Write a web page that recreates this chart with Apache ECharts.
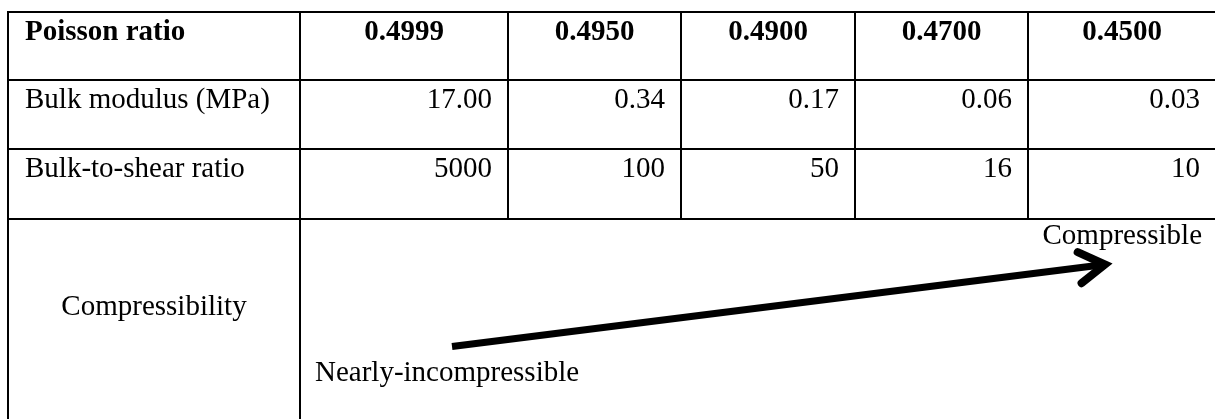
<!DOCTYPE html>
<html>
<head>
<meta charset="utf-8">
<script src="https://cdn.jsdelivr.net/npm/echarts@6/dist/echarts.min.js"></script>
<style>
  html, body { margin: 0; padding: 0; background: #fff; }
  #chart { width: 1215px; height: 419px; }
</style>
</head>
<body>
<div id="chart"></div>
<script>
// ---- data ----
const cornerLabel = 'Poisson ratio';
const poissonRatios = ['0.4999', '0.4950', '0.4900', '0.4700', '0.4500'];
const rowLabels = ['Bulk modulus (MPa)', 'Bulk-to-shear ratio', 'Compressibility'];
const bulkModulus = [17.00, 0.34, 0.17, 0.06, 0.03];
const bulkToShear = [5000, 100, 50, 16, 10];
const arrowFrom = 'Nearly-incompressible';
const arrowTo = 'Compressible';

// ---- layout (px) ----
const colWidths = [208, 173, 174, 173, 188];
const labelColWidth = 292;
const headerHeight = 68;
const rowHeights = [69, 70, 211];

const FONT = 'Liberation Serif';
const border = { color: '#fff', borderColor: '#000', borderWidth: 2 };
const baseLabel = { fontFamily: FONT, fontSize: 29, lineHeight: 29, color: '#000' };

const bodyCells = [];
bulkModulus.forEach((v, i) => bodyCells.push({ coord: [i, 0], value: v.toFixed(2) }));
bulkToShear.forEach((v, i) => bodyCells.push({ coord: [i, 1], value: String(v) }));
bodyCells.push({ coord: [[0, 4], 2], mergeCells: true, value: '' });

const chart = echarts.init(document.getElementById('chart'));
chart.setOption({
  animation: false,
  backgroundColor: '#fff',
  matrix: {
    left: 8,
    top: 12,
    width: labelColWidth + colWidths.reduce((a, b) => a + b, 0),
    height: headerHeight + rowHeights.reduce((a, b) => a + b, 0),
    backgroundStyle: { color: '#fff', borderColor: '#000', borderWidth: 2 },
    x: {
      levelSize: headerHeight,
      data: poissonRatios.map((v, i) => ({ value: v, size: colWidths[i] })),
      itemStyle: border,
      dividerLineStyle: { color: '#000', width: 2 },
      label: Object.assign({}, baseLabel, { fontWeight: 'bold', position: 'insideTop', distance: 4 })
    },
    y: {
      levelSize: labelColWidth,
      data: rowLabels.map((v, i) => ({
        value: v,
        size: rowHeights[i],
        label: i === 2
          ? Object.assign({}, baseLabel, { position: 'insideTop', distance: 72 })
          : Object.assign({}, baseLabel, { position: 'insideTopLeft', distance: 4, offset: [10, 0] })
      })),
      itemStyle: border,
      dividerLineStyle: { color: '#000', width: 2 },
      label: baseLabel
    },
    corner: {
      data: [{ coord: [-1, -1], value: cornerLabel }],
      itemStyle: border,
      label: Object.assign({}, baseLabel, { fontWeight: 'bold', position: 'insideTopLeft', distance: 4, offset: [10, 0] })
    },
    body: {
      data: bodyCells,
      itemStyle: border,
      label: Object.assign({}, baseLabel, { position: 'insideTopRight', distance: 4, offset: [-9, 0] })
    }
  },
  series: [{
    type: 'custom',
    coordinateSystem: 'matrix',
    data: [[poissonRatios[0], rowLabels[2]]],
    renderItem: function (params, api) {
      // centre of the merged "Compressibility" body cell
      const c = api.coord([poissonRatios[0], rowLabels[2]]);
      const start = [c[0] - 306, c[1] + 22];
      const tip = [c[0] + 347, c[1] - 60];
      const ang = Math.atan2(tip[1] - start[1], tip[0] - start[0]);
      const armLen = 30, armAng = 0.55;
      const armA = [tip[0] - armLen * Math.cos(ang - armAng), tip[1] - armLen * Math.sin(ang - armAng)];
      const armB = [tip[0] - armLen * Math.cos(ang + armAng), tip[1] - armLen * Math.sin(ang + armAng)];
      const lineEnd = [tip[0] - 4 * Math.cos(ang), tip[1] - 4 * Math.sin(ang)];
      return {
        type: 'group',
        children: [
          { type: 'line', shape: { x1: start[0], y1: start[1], x2: lineEnd[0], y2: lineEnd[1] },
            style: { stroke: '#000', lineWidth: 7, lineCap: 'butt' } },
          { type: 'polyline', shape: { points: [armA, tip, armB] },
            style: { stroke: '#000', lineWidth: 8, lineCap: 'round', lineJoin: 'miter', fill: null } },
          { type: 'text', style: { text: arrowFrom, x: c[0] - 443, y: c[1] + 49, align: 'left', verticalAlign: 'middle',
            font: '29px ' + FONT, fill: '#000' } },
          { type: 'text', style: { text: arrowTo, x: c[0] + 444, y: c[1] - 88, align: 'right', verticalAlign: 'middle',
            font: '29px ' + FONT, fill: '#000' } }
        ]
      };
    }
  }]
});
</script>
</body>
</html>
